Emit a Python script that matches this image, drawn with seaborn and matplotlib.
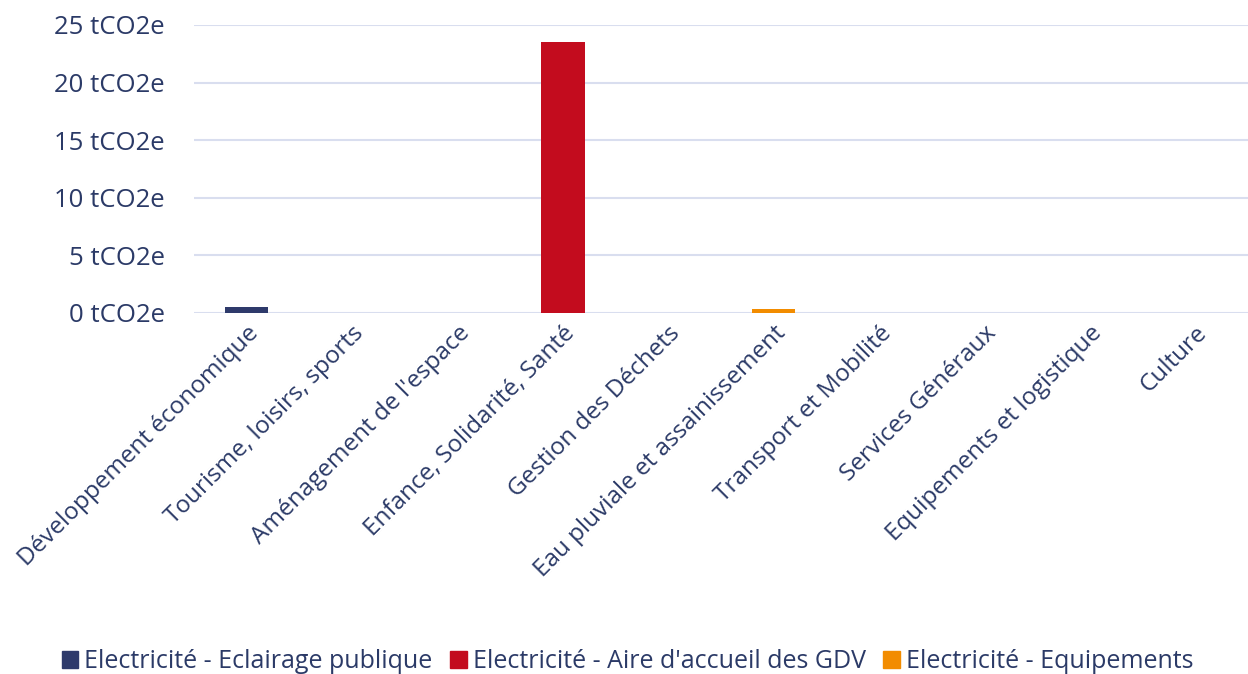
import numpy as np
import pandas as pd
import seaborn as sns
import matplotlib.pyplot as plt
from matplotlib.patches import Patch

categories = ["Développement économique", "Tourisme, loisirs, sports", "Aménagement de l'espace",
              "Enfance, Solidarité, Santé", "Gestion des Déchets", "Eau pluviale et assainissement",
              "Transport et Mobilité", "Services Généraux", "Equipements et logistique", "Culture"]
series = ["Electricité - Eclairage publique", "Electricité - Aire d'accueil des GDV", "Electricité - Equipements"]
eclairage = [0.5, 0, 0, 0, 0, 0, 0, 0, 0, 0]
gdv = [0, 0, 0, 23.55, 0, 0, 0, 0, 0, 0]
equipements = [0, 0, 0, 0, 0, 0.33, 0, 0, 0, 0]
colors = ["#2E3A6B", "#C30C1E", "#F28C00"]
text_color = "#2B3A67"

sns.set_theme(style="white")
plt.rcParams['font.family'] = ['Open Sans', 'DejaVu Sans']

df = pd.DataFrame({"cat": categories, series[0]: eclairage, series[1]: gdv, series[2]: equipements})

fig = plt.figure(figsize=(12.48, 6.74), dpi=100)
ax = fig.add_axes([194 / 1248, 1 - 313 / 674, 1 - 194 / 1248, (313 - 25) / 674])

bottom = np.zeros(len(categories))
for s, c in zip(series, colors):
    sns.barplot(data=df, x="cat", y=s, color=c, saturation=1, width=0.41, bottom=bottom,
                linewidth=0, ax=ax, zorder=3)
    bottom = bottom + df[s].values

ax.set_ylim(0, 25)
ax.set_xlim(-0.5, len(categories) - 0.5)
ax.set_yticks(range(0, 26, 5))
ax.set_yticklabels([f"{v} tCO2e" for v in range(0, 26, 5)])
ax.yaxis.grid(True, color="#D9DEEF", linewidth=1.5, zorder=0)
for sp in ax.spines.values():
    sp.set_visible(False)
ax.set_xlabel("")
ax.set_ylabel("")
ax.tick_params(axis="y", length=0, pad=21, labelsize=18.5, labelcolor=text_color)
ax.tick_params(axis="x", length=0, pad=6, labelsize=17.5, labelcolor=text_color)
ax.set_xticks(range(len(categories)))
ax.set_xticklabels(categories, rotation=45, ha="right", rotation_mode="anchor")

handles = [Patch(color=c, label=s) for s, c in zip(series, colors)]
leg = fig.legend(handles=handles, loc="center left", bbox_to_anchor=(52 / 1248, 1 - 662 / 674),
                 ncol=3, frameon=False, fontsize=18, handlelength=0.65, handleheight=0.65,
                 handletextpad=0.25, columnspacing=0.7, borderaxespad=0)
for t in leg.get_texts():
    t.set_color(text_color)

fig.savefig("out.png", dpi=100)
